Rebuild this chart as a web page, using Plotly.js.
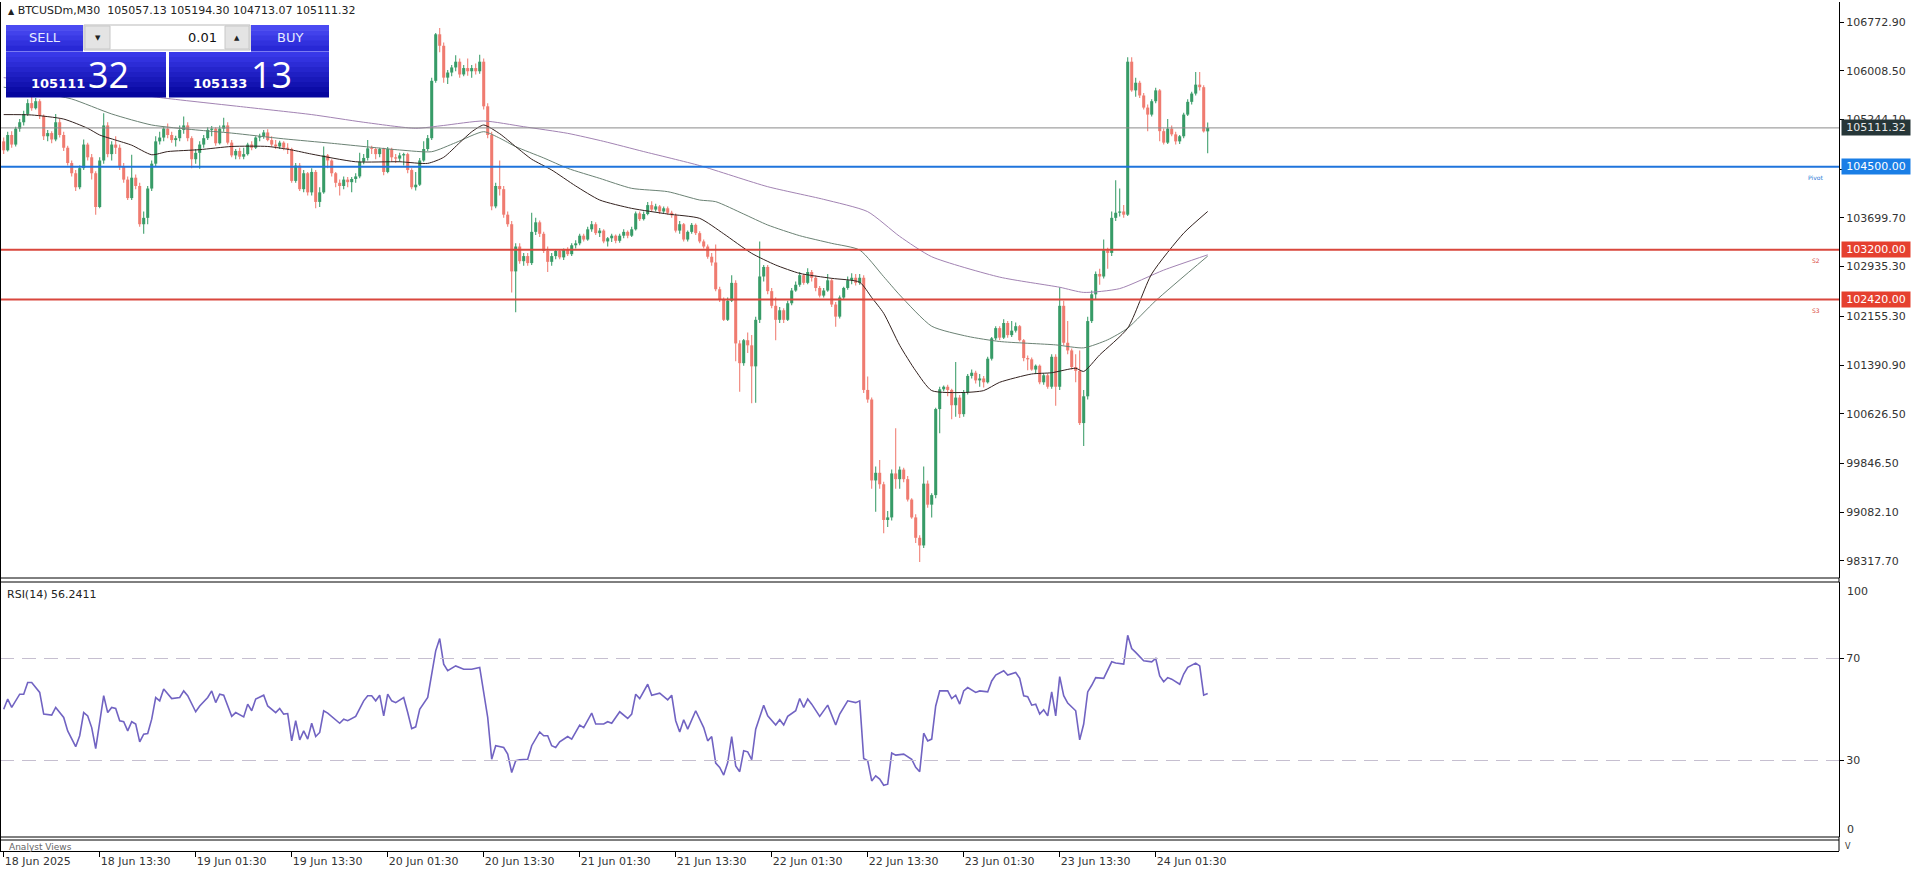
<!DOCTYPE html>
<html>
<head>
<meta charset="utf-8">
<script src="https://cdn.plot.ly/plotly-3.0.1.min.js"></script>
<style>
html,body{margin:0;padding:0;background:#fff;overflow:hidden}
#chart{width:1916px;height:874px}
</style>
</head>
<body>
<div id="chart"></div>
<script>
// ---------------- DATA ----------------
const symbolName = "BTCUSDm,M30";
const tickBars = [0,24,48,72,96,120,144,168,192,216,240,264,288];
const tickLabels = ["18 Jun 2025","18 Jun 13:30","19 Jun 01:30","19 Jun 13:30","20 Jun 01:30","20 Jun 13:30","21 Jun 01:30","21 Jun 13:30","22 Jun 01:30","22 Jun 13:30","23 Jun 01:30","23 Jun 13:30","24 Jun 01:30"];
const priceTicks = [106772.90,106008.50,105244.10,104464.10,103699.70,102935.30,102155.30,101390.90,100626.50,99846.50,99082.10,98317.70];
const rsiTicks = [70,30];

const open = [
104900,104760,105000,104850,105100,105200,105330,105500,105420,105530,
105300,104980,105030,104930,105200,105000,104800,104560,104400,104180,
104480,104850,104650,104400,103870,104600,105150,104700,104850,104800,
104500,104300,104010,104330,104200,103600,103700,104160,104550,104900,
104960,105100,105000,104920,104950,105080,105150,104950,104620,104720,
104850,104950,105080,105100,104870,105100,105150,104880,104680,104750,
104660,104700,104850,104800,104960,104980,105040,104920,104850,104820,
104880,104800,104780,104280,104520,104150,104400,104100,104420,103950,
104100,104680,104600,104400,104250,104200,104300,104260,104310,104350,
104580,104640,104790,104780,104700,104780,104420,104780,104650,104630,
104680,104700,104450,104180,104220,104600,104780,104950,105850,106580,
106400,105900,105980,106060,106150,105950,106050,106000,106050,106000,
106150,105450,105000,103880,104200,104150,103750,103600,102860,103250,
103020,103100,102990,103480,103630,103450,103180,103010,103100,103180,
103080,103200,103130,103270,103300,103420,103360,103520,103600,103460,
103500,103330,103380,103420,103340,103420,103480,103420,103520,103770,
103680,103760,103900,103830,103880,103800,103850,103780,103740,103500,
103600,103360,103480,103590,103460,103330,103250,103090,103000,102580,
102420,102100,102400,102680,101730,101420,101780,101700,101370,102100,
102780,102930,102550,102320,102100,102250,102100,102360,102560,102650,
102800,102680,102850,102760,102600,102480,102560,102720,102340,102150,
102450,102600,102720,102760,102680,102760,101000,100850,99580,99700,
99520,98960,99000,99690,99600,99750,99600,99280,99000,98680,
98560,99530,99200,99350,100700,101010,101050,101000,100760,100880,
100620,100960,101220,101270,101150,101180,101120,101490,101810,101970,
101820,102050,101860,101930,102000,101780,101500,101480,101320,101380,
101120,101230,101050,101520,101050,102320,101740,101620,101360,101300,
100480,100900,102080,102500,102820,102780,103190,103150,103700,103780,
103800,103750,106150,105700,105820,105620,105430,105320,105530,105700,
105060,104880,105100,105010,104900,104980,105320,105520,105650,105790,105750,105057.13];
const high = [
104960,105050,105060,105130,105250,105380,105560,105600,105580,105560,
105320,105080,105060,105330,105250,105050,104830,104600,104450,104520,
104930,104880,104700,104430,104650,105340,105200,104900,104980,104850,
104560,104350,104690,104380,104250,103800,104200,104600,104980,105050,
105130,105180,105050,104990,105150,105290,105200,104980,104780,104900,
105000,105120,105140,105120,105150,105270,105200,104920,104780,104800,
104800,104880,104900,104980,105020,105080,105090,104980,104920,104910,
104900,104870,104800,104560,104560,104450,104420,104480,104450,104180,
104820,104700,104620,104420,104300,104350,104340,104340,104400,104720,
104700,104920,104830,104800,104800,104800,104810,104800,104700,104720,
104720,104720,104480,104420,104640,104900,105000,105900,106600,106680,
106450,106020,106100,106250,106200,106100,106200,106100,106120,106260,
106200,105500,105050,104250,104600,104200,103800,103650,103300,103300,
103150,103150,103780,103700,103660,103480,103250,103150,103200,103200,
103220,103240,103300,103350,103450,103450,103560,103650,103630,103540,
103520,103400,103450,103440,103450,103520,103500,103560,103800,103800,
103800,103950,103960,103920,103900,103880,103880,103810,103770,103650,
103620,103500,103620,103610,103490,103360,103280,103150,103280,102620,
102450,102450,102800,102720,101780,101800,101900,101860,102150,103330,
102960,102960,102600,102450,102300,102280,102400,102600,102700,102850,
102820,102910,102880,102800,102630,102600,102820,102750,102380,102480,
102620,102780,102830,102820,102820,102800,101210,100880,99800,99900,
99560,99100,99750,100400,99800,99780,99650,99300,99050,98720,
99800,99580,99380,100720,101050,101070,101080,101020,101440,100920,
101000,101250,101320,101300,101250,101220,101520,101830,102000,102000,
102110,102080,102080,102060,102020,101800,101540,101510,101400,101400,
101260,101260,101560,101560,102610,102400,102080,101650,101560,101620,
101000,102150,102560,102860,102900,103360,103230,103800,104290,104160,
103900,106220,106220,105900,105850,105660,105480,105560,105740,105720,
105100,105250,105150,105050,105000,105350,105560,105680,105990,105990,105780,105194.30];
const low = [
104700,104740,104800,104820,105050,105150,105300,105380,105400,105250,
104920,104900,104870,104900,104960,104750,104520,104350,104120,104150,
104450,104600,104300,103750,103850,104550,104650,104600,104700,104450,
104250,103980,103980,104150,103560,103450,103600,104120,104500,104850,
104900,104950,104880,104820,104900,105020,104900,104480,104550,104470,
104800,104920,104980,104830,104850,105050,104850,104650,104620,104620,
104620,104680,104760,104780,104900,104940,104900,104820,104780,104780,
104760,104700,104250,104250,104120,104100,104050,104050,103850,103870,
104080,104480,104350,104180,104050,104150,104180,104100,104250,104320,
104540,104600,104700,104620,104650,104370,104400,104580,104560,104580,
104520,104400,104150,104130,104200,104580,104750,104920,105820,106300,
105820,105800,105920,106000,105900,105920,105930,105900,105950,105960,
105400,104950,103820,103850,104050,103700,103560,102530,102220,102980,
102950,102950,102960,103430,103400,103150,102850,102950,103050,103050,
103040,103100,103100,103220,103270,103330,103340,103480,103430,103400,
103300,103250,103320,103300,103310,103380,103380,103400,103500,103650,
103660,103740,103800,103800,103760,103770,103750,103700,103470,103450,
103330,103330,103450,103430,103300,103220,103060,102950,102550,102380,
102080,102080,102380,101450,100970,101380,101580,100790,100800,102050,
102700,102500,102280,101780,102050,102050,102080,102330,102540,102620,
102650,102660,102700,102550,102450,102450,102540,102300,101990,102120,
102420,102570,102660,102640,102650,100950,100800,99450,99090,99450,
98750,98850,98950,99450,99450,99550,99250,98980,98600,98300,
98520,99150,99000,99300,100320,100980,100900,100540,100580,100560,
100580,100930,101180,101100,101050,101040,101100,101460,101780,101780,
101800,101820,101830,101900,101760,101450,101310,101300,101250,101090,
101080,101020,101020,100750,101000,101700,101560,101320,101120,100450,
100120,100850,102050,102420,102650,102750,102900,103100,103650,103720,
103700,103730,105680,105600,105580,105400,105060,105290,105500,104900,
104850,104860,104980,104850,104860,104950,105300,105480,105620,105700,105040,104713.07];
const close = [
104760,105000,104850,105100,105200,105330,105500,105420,105530,105300,
104980,105030,104930,105200,105000,104800,104560,104400,104180,104480,
104850,104650,104400,103870,104600,105150,104700,104850,104800,104500,
104300,104010,104330,104200,103600,103700,104160,104550,104900,104960,
105100,105000,104920,104950,105080,105150,104950,104620,104720,104850,
104950,105080,105100,104870,105100,105150,104880,104680,104750,104660,
104700,104850,104800,104960,104980,105040,104920,104850,104820,104880,
104800,104780,104280,104520,104150,104400,104100,104420,103950,104100,
104680,104600,104400,104250,104200,104300,104260,104310,104350,104580,
104640,104790,104780,104700,104780,104420,104780,104650,104630,104680,
104700,104450,104180,104220,104600,104780,104950,105850,106580,106400,
105900,105980,106060,106150,105950,106050,106000,106050,106000,106150,
105450,105000,103880,104200,104150,103750,103600,102860,103250,103020,
103100,102990,103480,103630,103450,103180,103010,103100,103180,103080,
103200,103130,103270,103300,103420,103360,103520,103600,103460,103500,
103330,103380,103420,103340,103420,103480,103420,103520,103770,103680,
103760,103900,103830,103880,103800,103850,103780,103740,103500,103600,
103360,103480,103590,103460,103330,103250,103090,103000,102580,102420,
102100,102400,102680,101730,101420,101780,101700,101370,102100,102780,
102930,102550,102320,102100,102250,102100,102360,102560,102650,102800,
102680,102850,102760,102600,102480,102560,102720,102340,102150,102450,
102600,102720,102760,102680,102760,101000,100850,99580,99700,99520,
98960,99000,99690,99600,99750,99600,99280,99000,98680,98560,
99530,99200,99350,100700,101010,101050,101000,100760,100880,100620,
100960,101220,101270,101150,101180,101120,101490,101810,101970,101820,
102050,101860,101930,102000,101780,101500,101480,101320,101380,101120,
101230,101050,101520,101050,102320,101740,101620,101360,101300,100480,
100900,102080,102500,102820,102780,103190,103150,103700,103780,103800,
103750,106150,105700,105820,105620,105430,105320,105530,105700,105060,
104880,105100,105010,104900,104980,105320,105520,105650,105790,105750,105057,105111.32];

// moving averages: [bar index], [value]
const maFastBars = [0,7,15,21,24,28,32,37,41,49,57,66,72,77,88,99,106,110,114,117,120,124,128,132,137,143,149,157,166,174,180,187,193,199,207,214,217,220,224,228,232,240,245,249,257,262,268,270,274,281,287,295,301];
const maFastVals = [105320,105314,105250,105105,105000,104920,104840,104690,104740,104770,104820,104820,104765,104700,104580,104580,104555,104650,104880,105050,105157,105020,104817,104620,104451,104200,103980,103849,103760,103692,103450,103143,102960,102829,102751,102690,102450,102202,101700,101300,100990,100960,100990,101120,101250,101270,101340,101290,101550,101970,102820,103460,103800];
const maMidBars = [0,10,17,27,37,48,57,70,82,99,107,113,120,124,128,135,141,149,157,166,174,178,185,191,199,207,214,220,224,232,241,249,263,270,276,281,288,301];
const maMidVals = [105750,105650,105565,105330,105157,105080,105030,104940,104870,104765,104738,104880,105052,104950,104817,104640,104477,104320,104163,104111,103980,103954,103760,103588,103420,103300,103195,102777,102490,102000,101840,101760,101707,101660,101787,101970,102400,103100];
const maSlowBars = [0,20,40,60,77,90,103,110,120,130,141,150,160,174,191,205,216,224,232,249,264,270,279,290,301];
const maSlowVals = [105900,105750,105580,105440,105320,105200,105105,105150,105220,105130,105026,104900,104740,104520,104189,103990,103797,103409,103090,102770,102611,102530,102590,102880,103120];

// RSI(14)
const rsiBars = [0,1,2,4,5,6,7,9,10,12,13,15,16,18,19,20,21,22,23,24,25,26,27,28,29,30,31,32,33,34,35,36,37,38,39,40,41,42,44,45,46,48,49,51,52,53,54,55,57,58,60,61,62,63,65,66,68,69,70,71,72,73,74,75,76,77,78,79,80,81,84,85,86,88,90,91,92,93,94,95,96,97,98,100,101,102,103,104,106,107,108,109,110,111,113,115,117,119,121,122,123,125,126,127,128,129,131,132,134,135,136,137,138,139,141,142,144,145,147,148,150,151,152,154,156,157,158,159,161,162,164,166,167,168,169,170,171,173,174,175,176,177,178,179,180,181,182,183,184,185,186,187,188,190,191,193,194,195,196,198,199,200,201,202,204,206,208,209,211,213,214,215,216,217,218,219,220,221,222,223,225,227,228,229,230,231,232,233,234,236,237,238,239,240,241,243,244,246,247,248,250,251,253,254,255,256,257,258,259,260,261,262,263,264,265,266,268,269,270,271,272,273,275,276,277,278,280,281,282,283,285,287,288,289,290,291,292,294,295,296,297,298,299,300,301];
const rsiVals = [50.1,54.1,50.8,56,56,60.6,60.6,56.7,48.2,47.8,50.8,46.9,41.6,35.4,39.7,48.8,47.5,42.9,34.7,44.9,55.4,48.8,50.8,50.4,45.6,45.2,41.6,45.2,44.3,37.3,40.3,40.6,46.2,54.7,53.4,58,56,54.3,54.7,57.3,55.4,49.1,51.4,54.7,57.3,52.7,56,55.6,47.3,48.8,47.1,52.1,49.5,54.1,55.6,51.4,48.8,50.4,48.2,48.4,37.7,45.6,38.1,41.6,38.4,44.6,39.4,41,49.5,48.6,44.6,46.2,45.6,47.3,53.4,55.4,55.4,53.4,55.6,47.5,56,53.4,52.7,54.7,48.8,42.5,43.2,50.1,54.7,64.5,73,77.8,67.8,65.2,67.1,65.8,65.8,66.5,46.9,30.5,35.8,35.1,32.5,25.3,29.9,30.3,30.5,35.8,41.2,39.7,39.7,35.8,35.1,37.3,39.4,38.4,43.9,42.9,48.6,44.3,44.3,45.2,44.6,49.1,46.5,48.2,56,54.3,59.9,55.6,56.4,53.8,55.6,45.6,41.2,46,42.3,49.5,46,42.9,37.7,39.4,29,27.3,24.3,29.2,39.4,27.9,25.6,33.8,33.4,30.3,42.3,51.7,47.5,43.9,46,43.9,47.3,49.5,54.3,50.8,54.1,52.1,47.3,51.7,43.9,48.2,53.4,52.7,53.4,30.8,29.9,22,24,22.7,20.3,20.7,32.9,32.1,32.5,30.5,27.3,25.6,40.7,37.7,38.4,51.4,57.3,57.3,54.3,55.6,52.1,57.3,58.6,56.7,57.3,56.9,61.2,63.5,65.2,63.5,64.5,62.2,55.4,55,51.7,52.1,48.2,49.9,47.5,56.9,47.5,62.9,55.4,52.5,49.5,38.1,44.3,56.9,59.5,62.5,62.2,65.2,68.7,68.2,67.8,79.1,73.9,72.4,69.1,68.7,70,63.2,60.9,62.5,61.9,59.9,63.9,66.5,67.4,68.2,67.1,55.6,56.2411];

const pivotLevel = 104500.00, s2Level = 103200.00, s3Level = 102420.00;
const bidPrice = 105111.32, askPrice = 105133.13, lotSize = "0.01";

// ---------------- LAYOUT HELPERS ----------------
const W = 1916, H = 874;
const M = {l: 0, r: 77, t: 2, b: 23};
const PW = W - M.l - M.r, PH = H - M.t - M.b;
const px = x => (x - M.l) / PW;
const py = y => (H - M.b - y) / PH;
const FONT = "DejaVu Sans, Verdana, sans-serif";

const N = close.length;
const idx = Array.from({length: N}, (_, i) => i);
const GREEN = '#379b67', RED = '#ef7b70';
const cols = idx.map(i => close[i] >= open[i] ? GREEN : RED);

const traces = [
  {type:'bar', x: idx, y: idx.map(i => high[i] - low[i]), base: low, width: 0.26,
   marker:{color: cols, line:{width:0}}, hoverinfo:'skip', xaxis:'x', yaxis:'y'},
  {type:'bar', x: idx, y: idx.map(i => Math.max(Math.abs(close[i] - open[i]), 14)),
   base: idx.map(i => Math.min(open[i], close[i])), width: 0.76,
   marker:{color: cols, line:{width:0}}, hoverinfo:'skip', xaxis:'x', yaxis:'y'},
  {type:'scatter', mode:'lines', x: maSlowBars, y: maSlowVals, line:{color:'#a283b3', width:1, shape:'spline', smoothing:0.6}, hoverinfo:'skip', xaxis:'x', yaxis:'y'},
  {type:'scatter', mode:'lines', x: maMidBars, y: maMidVals, line:{color:'#6b8274', width:1, shape:'spline', smoothing:0.6}, hoverinfo:'skip', xaxis:'x', yaxis:'y'},
  {type:'scatter', mode:'lines', x: maFastBars, y: maFastVals, line:{color:'#33221f', width:1, shape:'spline', smoothing:0.6}, hoverinfo:'skip', xaxis:'x', yaxis:'y'},
  {type:'scatter', mode:'lines', x: rsiBars, y: rsiVals, line:{color:'#7163c2', width:1.6}, hoverinfo:'skip', xaxis:'x', yaxis:'y2'}
];

const shapes = [];
const annotations = [];
function hline(y, color, width, dash, yref) {
  shapes.push({type:'line', xref:'paper', x0:0, x1:1, yref: yref || 'y', y0:y, y1:y,
    line:{color, width, dash: dash || 'solid'}, layer:'above'});
}
function pline(x0, y0, x1, y1, color, width) {
  shapes.push({type:'line', xref:'paper', yref:'paper', x0:px(x0), y0:py(y0), x1:px(x1), y1:py(y1),
    line:{color, width: width || 1}, layer:'above'});
}
function prect(x0, y0, x1, y1, fill, lineColor) {
  shapes.push({type:'rect', xref:'paper', yref:'paper', x0:px(x0), y0:py(y0), x1:px(x1), y1:py(y1),
    fillcolor: fill, line:{color: lineColor || fill, width: lineColor ? 1 : 0}, layer:'above'});
}
function ptext(x, y, text, size, color, xanchor, family, extra) {
  annotations.push(Object.assign({xref:'paper', yref:'paper', x:px(x), y:py(y), text, showarrow:false,
    xanchor: xanchor || 'left', yanchor:'middle', font:{family: family || FONT, size, color}}, extra || {}));
}

// level lines
hline(bidPrice, '#8a8a8a', 1);
hline(pivotLevel, '#1f74dc', 2);
hline(s2Level, '#d9473d', 2);
hline(s3Level, '#d9473d', 2);
hline(70, '#c6bfd0', 1, '14px,8px', 'y2');
hline(30, '#c6bfd0', 1, '14px,8px', 'y2');

// panel frames
pline(0.5, 2, 0.5, 851, '#000', 1);
pline(0, 578, 1839, 578, '#000', 1);
pline(0, 582, 1839, 582, '#000', 1);
pline(0, 837, 1839, 837, '#000', 1);
pline(0, 840, 1839, 840, '#000', 1);
pline(1839, 840, 1839, 851, '#000', 1);
pline(1839, 578, 1839, 582, '#000', 1);
pline(1839, 837, 1839, 840, '#000', 1);

// right axis price boxes
function priceBox(v, bg, fg) {
  annotations.push({xref:'paper', yref:'y', x:px(1841), y:v, xanchor:'left', yanchor:'middle',
    text: v.toFixed(2), showarrow:false, bgcolor:bg, borderpad:1, width:66, height:13,
    font:{family:FONT, size:11, color:fg}});
}
priceBox(close[N-1], '#263638', '#e8e8e8');
priceBox(pivotLevel, '#1a7ee6', '#ffffff');
priceBox(s2Level, '#e5402f', '#ffffff');
priceBox(s3Level, '#e5402f', '#ffffff');
annotations.push({xref:'paper', yref:'y', x:px(1825), y:pivotLevel, yshift:-11, xanchor:'right', yanchor:'middle', text:'Pivot', showarrow:false, font:{family:FONT, size:6, color:'#2a78d6'}});
annotations.push({xref:'paper', yref:'y', x:px(1822), y:s2Level, yshift:-11, xanchor:'right', yanchor:'middle', text:'S2', showarrow:false, font:{family:FONT, size:6, color:'#d9473d'}});
annotations.push({xref:'paper', yref:'y', x:px(1822), y:s3Level, yshift:-11, xanchor:'right', yanchor:'middle', text:'S3', showarrow:false, font:{family:FONT, size:6, color:'#d9473d'}});

// header
ptext(6, 11, '<span style="font-size:8px">▲</span> ' + symbolName + '  ' + open[N-1].toFixed(2) + ' ' + high[N-1].toFixed(2) + ' ' + low[N-1].toFixed(2) + ' ' + close[N-1].toFixed(2), 11, '#222');
ptext(5, 594, 'RSI(14) ' + rsiVals[rsiVals.length-1].toFixed(4), 11, '#222');
ptext(1845, 591, '100', 11, '#333');
ptext(1845, 829, '0', 11, '#333');
ptext(1843, 846, 'V', 8, '#333');
ptext(7, 847, 'Analyst Views', 9, '#666');

// one-click trading panel
function gradient(x0, y0, x1, y1, c0, c1, steps) {
  const h = (y1 - y0) / steps;
  for (let k = 0; k < steps; k++) {
    const t = k / (steps - 1);
    const c = c0.map((v, j) => Math.round(v + (c1[j] - v) * t));
    prect(x0, y0 + k*h, x1, y0 + (k+1)*h + 0.5, 'rgb(' + c.join(',') + ')');
  }
}
gradient(6, 25, 83, 51, [74,74,242], [40,40,214], 5);
gradient(251, 25, 329, 51, [74,74,242], [40,40,214], 5);
prect(84, 25, 250, 50, '#ffffff', '#b9b9b9');
prect(85, 26, 110, 49, '#e4e4e4', '#c8c8c8');
prect(225, 26, 249, 49, '#e4e4e4', '#c8c8c8');
gradient(6, 52, 166, 97, [56,56,232], [6,6,158], 9);
gradient(169, 52, 329, 97, [56,56,232], [6,6,158], 9);
pline(6, 51.5, 83, 51.5, '#7a7af2', 1);
pline(251, 51.5, 329, 51.5, '#7a7af2', 1);
ptext(45, 38, 'SELL', 13, '#e6eaff', 'center');
ptext(290, 38, 'BUY', 13, '#e6eaff', 'center');
ptext(219, 38, lotSize, 13, '#111', 'right');
ptext(97.5, 38, '▼', 7, '#222', 'center');
ptext(237, 38, '▲', 7, '#222', 'center');
const bidStr = bidPrice.toFixed(2).split('.'), askStr = askPrice.toFixed(2).split('.');
ptext(29, 83, '<b>' + bidStr[0] + '</b>', 13, '#ffffff');
ptext(86, 75, bidStr[1], 36, '#ffffff', 'left', 'Open Sans, sans-serif');
ptext(191, 83, '<b>' + askStr[0] + '</b>', 13, '#ffffff');
ptext(249, 75, askStr[1], 36, '#ffffff', 'left', 'Open Sans, sans-serif');

const layout = {
  width: W, height: H,
  margin: M,
  paper_bgcolor:'#ffffff', plot_bgcolor:'#ffffff',
  showlegend:false, barmode:'overlay',
  xaxis: {range:[-0.925, -0.925 + PW/4], anchor:'free', position:0, domain:[0,1],
    tickvals: tickBars, ticktext: tickLabels, ticks:'outside', ticklen:5, tickcolor:'#000',
    ticklabelposition:'outside right', showline:true, linecolor:'#000', linewidth:1,
    showgrid:false, zeroline:false, tickfont:{family:FONT, size:11, color:'#333'}, fixedrange:true},
  yaxis: {domain:[py(578), py(2)], range:[98049.3, 107086.7], side:'right', anchor:'x',
    tickvals: priceTicks, ticktext: priceTicks.map(v => v.toFixed(2)),
    ticks:'outside', ticklen:4, tickcolor:'#000', showline:true, linecolor:'#000', linewidth:1,
    showgrid:false, zeroline:false, tickfont:{family:FONT, size:11, color:'#333'}, fixedrange:true},
  yaxis2: {domain:[py(837), py(582)], range:[0,100], side:'right', anchor:'x',
    tickvals: rsiTicks, ticktext: rsiTicks.map(String),
    ticks:'outside', ticklen:4, tickcolor:'#000', showline:true, linecolor:'#000', linewidth:1,
    showgrid:false, zeroline:false, tickfont:{family:FONT, size:11, color:'#333'}, fixedrange:true},
  shapes, annotations
};

Plotly.newPlot('chart', traces, layout, {staticPlot:true, displayModeBar:false});
</script>
</body>
</html>
